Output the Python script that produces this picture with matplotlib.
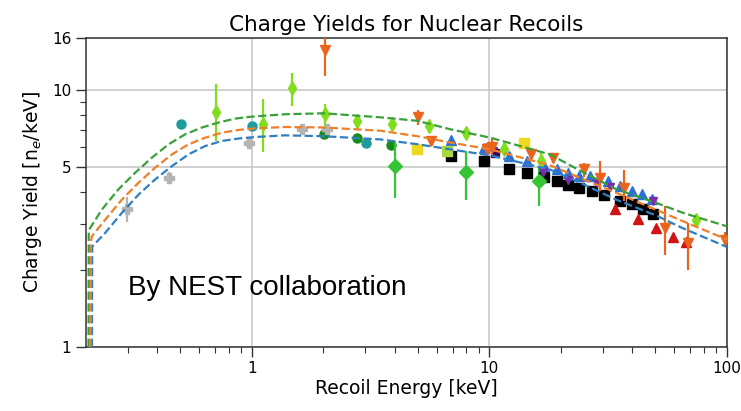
import numpy as np
import matplotlib.pyplot as plt
from matplotlib.ticker import FixedLocator, NullFormatter

# 1. NEST model curves
blue_e = [0.212, 0.2125, 0.241, 0.2835, 0.333, 0.391, 0.46, 0.54, 0.635, 0.746, 0.876,
          1.03, 1.376, 2.0, 3.48, 4.97, 6.86, 10.1, 18.0, 25.0, 34.3, 50.0, 65.2, 100]
blue_y = [1.0, 2.46, 2.78, 3.33, 3.92, 4.49, 5.06, 5.62, 6.06, 6.34, 6.48,
          6.57, 6.67, 6.62, 6.43, 6.16, 5.88, 5.57, 4.91, 4.29, 3.74, 3.26, 2.9, 2.45]
orange_e = [0.209, 0.2095, 0.212, 0.241, 0.2835, 0.333, 0.391, 0.46, 0.54, 0.635, 0.746, 0.876,
            1.03, 1.376, 2.0, 3.48, 4.97, 6.86, 10.1, 18.0, 25.0, 34.3, 50.0, 65.2, 100]
orange_y = [1.0, 2.55, 2.70, 3.13, 3.75, 4.36, 4.99, 5.62, 6.15, 6.53, 6.83, 7.0,
            7.1, 7.19, 7.16, 6.95, 6.62, 6.25, 5.88, 5.1, 4.49, 3.98, 3.43, 3.09, 2.62]
green_e = [0.205, 0.2055, 0.2335, 0.274, 0.3224, 0.379, 0.445, 0.523, 0.614, 0.722, 0.848,
           1.0, 1.376, 2.0, 3.48, 4.97, 6.86, 10.1, 18.0, 25.0, 34.3, 50.0, 65.2, 100]
green_y = [1.0, 2.85, 3.43, 4.11, 4.77, 5.46, 6.15, 6.73, 7.15, 7.48, 7.75,
           7.89, 8.06, 8.13, 7.84, 7.6, 7.04, 6.53, 5.62, 4.77, 4.11, 3.65, 3.33, 2.95]

# 2. measurements
gray_e = [0.298, 0.447, 0.97, 1.63, 2.08]
gray_y = [3.45, 4.56, 6.25, 7.04, 7.04]
gray_lo = [3.07, 4.35, 6.0, 6.85, 6.8]
gray_hi = [3.85, 4.8, 6.5, 7.25, 7.3]

teal_e = [0.503, 1.0, 3.01]
teal_y = [7.41, 7.25, 6.25]

dkgreen_e = [2.01, 2.76, 3.84]
dkgreen_y = [6.73, 6.53, 6.11]

lime_e = [0.706, 1.11, 1.47, 2.03, 2.76, 3.9, 5.56, 7.98, 11.56, 16.5, 74.1]
lime_y = [8.26, 7.41, 10.16, 8.06, 7.59, 7.37, 7.25, 6.83, 5.92, 5.3, 3.11]
lime_lo = [6.35, 5.72, 8.68, 7.25, 7.08, 7.0, 6.95, 6.5, 5.6, 4.9, 2.95]
lime_hi = [10.6, 9.23, 11.7, 8.8, 7.9, 7.7, 7.55, 7.1, 6.2, 5.7, 3.3]

gdia_e = [3.99, 7.98, 16.1]
gdia_y = [5.06, 4.8, 4.42]
gdia_lo = [3.8, 3.75, 3.53]
gdia_hi = [6.35, 5.79, 5.06]

black_e = [6.86, 9.46, 12.05, 14.4, 17.0, 19.2, 21.5, 23.9, 27.0, 30.5, 35.5, 39.8, 44.3, 49.0]
black_y = [5.54, 5.3, 4.91, 4.77, 4.6, 4.42, 4.29, 4.17, 4.05, 3.9, 3.7, 3.59, 3.43, 3.28]

blue_pt_e = [6.86, 9.46, 12.05, 14.4, 17.0, 19.3, 21.5, 23.9, 26.5, 31.6, 35.5, 39.8, 43.7, 48.5]
blue_pt_y = [6.4, 5.97, 5.54, 5.3, 5.06, 4.91, 4.77, 4.63, 4.63, 4.42, 4.23, 4.05, 3.93, 3.77]

purple_e = [10.4, 16.8, 21.5, 28.3, 32.2, 48.8]
purple_y = [5.79, 4.8, 4.48, 4.36, 4.2, 3.7]

indigo_e = [10.6]
indigo_y = [5.71]

orange_pt_e = [2.03, 5.0, 5.65, 9.78, 10.3, 14.9, 18.5, 24.9, 29.3, 36.7, 54.9, 68.7, 98]
orange_pt_y = [14.4, 7.89, 6.34, 5.88, 6.0, 5.62, 5.46, 4.91, 4.56, 4.17, 2.91, 2.54, 2.62]
orange_pt_lo = [11.4, 7.3, 6.1, 5.6, 5.6, 5.3, 5.2, 4.6, 4.05, 3.7, 2.29, 2.0, 2.45]
orange_pt_hi = [17.3, 8.4, 6.6, 6.2, 6.5, 5.95, 5.7, 5.2, 5.3, 4.9, 3.53, 3.04, 2.8]

red_e = [33.8, 42.4, 50.3, 59.1, 67.0]
red_y = [3.43, 3.15, 2.91, 2.68, 2.56]

yellow_e = [4.97, 13.95]
yellow_y = [5.88, 6.21]

ygreen_e = [6.64]
ygreen_y = [5.79]


def errs(y, lo, hi):
    y = np.array(y)
    return [y - np.array(lo), np.array(hi) - y]


# 3. figure
fig = plt.figure(figsize=(7.41, 4.11), dpi=100)
ax = fig.add_axes([0.116, 0.156, 0.865, 0.752])

ax.plot(blue_e, blue_y, '--', color='#2f7fc1', lw=1.6, zorder=4)
ax.plot(orange_e, orange_y, '--', color='#f07f2a', lw=1.6, zorder=4)
ax.plot(green_e, green_y, '--', color='#3aa03a', lw=1.6, zorder=4)

eb = dict(ls='none', elinewidth=1.6, capsize=0, zorder=3)
ax.errorbar(gray_e, gray_y, yerr=errs(gray_y, gray_lo, gray_hi), fmt='P', ms=7,
            color='#b4b4b4', **eb)
ax.plot(teal_e, teal_y, 'o', ms=6.5, color='#1c9c9c', ls='none', zorder=3)
ax.plot(dkgreen_e, dkgreen_y, 'o', ms=6.5, color='#178a1c', ls='none', zorder=3)
ax.errorbar(lime_e, lime_y, yerr=errs(lime_y, lime_lo, lime_hi), fmt='d', ms=7.5,
            color='#80de1c', **eb)
ax.errorbar(gdia_e, gdia_y, yerr=errs(gdia_y, gdia_lo, gdia_hi), fmt='D', ms=7,
            color='#34c434', **eb)
ax.plot(black_e, black_y, 's', ms=6.5, color='black', ls='none', zorder=3)
ax.plot(blue_pt_e, blue_pt_y, '^', ms=6.5, color='#2d6fd6', ls='none', zorder=3)
ax.plot(purple_e, purple_y, 'v', ms=5.5, color='#7b2bb0', ls='none', zorder=3)
ax.plot(indigo_e, indigo_y, 's', ms=6, color='#3c0a5a', ls='none', zorder=3)
ax.plot(yellow_e, yellow_y, 's', ms=6.5, color='#efd820', ls='none', zorder=3)
ax.plot(ygreen_e, ygreen_y, 's', ms=6.5, color='#a8d840', ls='none', zorder=3)
ax.errorbar(orange_pt_e, orange_pt_y, yerr=errs(orange_pt_y, orange_pt_lo, orange_pt_hi),
            fmt='v', ms=7, color='#ec631c', **eb)
ax.plot(red_e, red_y, '^', ms=7, color='#d01414', ls='none', zorder=3)

# 4. axes
ax.set_xscale('log')
ax.set_yscale('log')
ax.set_xlim(0.2, 100)
ax.set_ylim(1, 16)

ax.yaxis.set_major_locator(FixedLocator([1, 5, 10, 16]))
ax.set_yticklabels(['1', '5', '10', '16'])
ax.yaxis.set_minor_locator(FixedLocator([2, 3, 4, 6, 7, 8, 9]))
ax.yaxis.set_minor_formatter(NullFormatter())
ax.xaxis.set_major_locator(FixedLocator([1, 10, 100]))
ax.set_xticklabels(['1', '10', '100'])
ax.xaxis.set_minor_locator(FixedLocator([0.3, 0.4, 0.5, 0.6, 0.7, 0.8, 0.9,
                                         2, 3, 4, 5, 6, 7, 8, 9,
                                         20, 30, 40, 50, 60, 70, 80, 90]))
ax.xaxis.set_minor_formatter(NullFormatter())

ax.tick_params(which='major', length=7, width=1, labelsize=11, color='#333333')
ax.tick_params(which='minor', length=4, width=0.8, color='#333333')
for s in ax.spines.values():
    s.set_color('#333333')
    s.set_linewidth(1.1)
ax.grid(True, which='major', color='#c8c8c8', lw=1.2)
ax.set_axisbelow(True)

ax.set_title('Charge Yields for Nuclear Recoils', fontsize=15.5, pad=5)
ax.set_xlabel('Recoil Energy [keV]', fontsize=13.5, labelpad=2)
ax.set_ylabel('Charge Yield [n$_e$/keV]', fontsize=13.5, labelpad=6)

ax.text(0.0655, 0.168, 'By NEST collaboration', transform=ax.transAxes,
        fontsize=20, family='Liberation Sans', va='baseline', zorder=5)

fig.savefig('out.png', dpi=100)
